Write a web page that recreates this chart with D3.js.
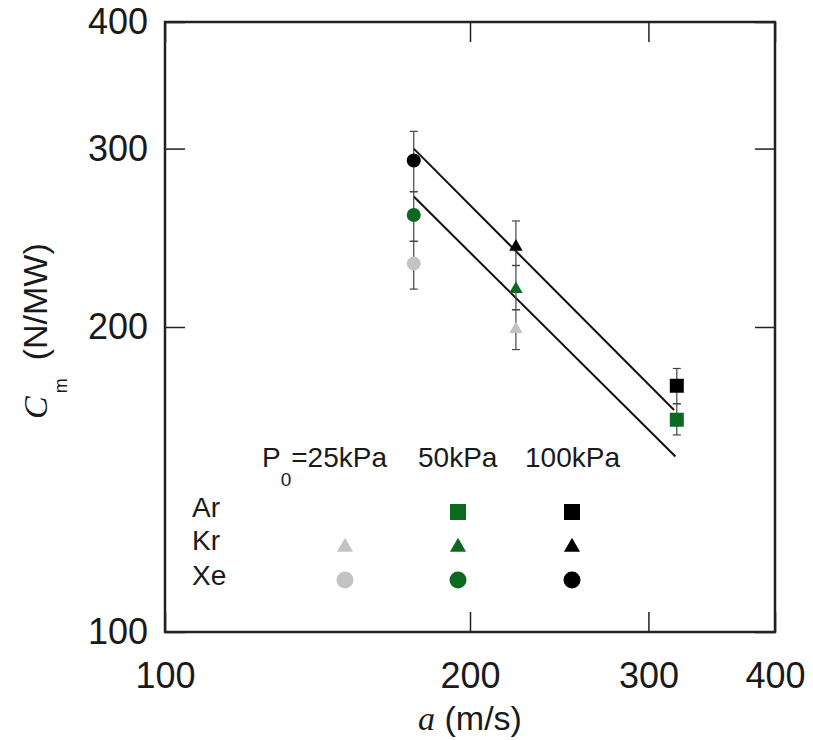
<!DOCTYPE html>
<html>
<head>
<meta charset="utf-8">
<script src="https://cdn.jsdelivr.net/npm/d3@7"></script>
<style>
	body { margin: 0; background: #fff; }
	svg { display: block; }
	text { font-family: "Liberation Sans", Arial, sans-serif; fill: #1a1a1a; }
</style>
</head>
<body>
<svg id="chart" width="813" height="740"></svg>
<script>
// gases, in the order Ar, Kr, Xe
const gases = ["Ar", "Kr", "Xe"];
const pressureLabels = ["25kPa", "50kPa", "100kPa"];
const soundSpeed = [320, 222, 176];

// Cm (N/MW) for each gas, one list per fill pressure
const cm25 = [null, 199, 231];
const cm50 = [162, 218, 258];
const cm100 = [175, 240, 292];

// error bar ends
const low25 = [null, 190, 218];
const high25 = [null, 208, 243];
const low50 = [156.5, 208, 243];
const high50 = [168, 230, 272];
const low100 = [168, 230, 272];
const high100 = [182, 254.5, 312];

// fitted lines, end points [a, Cm]
const fit100 = [[176, 300], [318, 165.6]];
const fit50 = [[176, 269], [319, 149]];

const xTicks = [100, 200, 300, 400];
const yTicks = [100, 200, 300, 400];

const colors = ["#c3c3c3", "#0b6a1f", "#000000"];
const shapes = [d3.symbolSquare, d3.symbolTriangle, d3.symbolCircle];
const plotSizes = [196, 78, 154];
const legendSizes = [256, 112, 227];

const margin = {left: 165, top: 22};
const width = 610, height = 610;

const svg = d3.select("#chart");
const g = svg.append("g").attr("transform", `translate(${margin.left},${margin.top})`);

const x = d3.scaleLog().domain([100, 400]).range([0, width]);
const y = d3.scaleLog().domain([100, 400]).range([height, 0]);

// axes: inward ticks on all four sides, labels on bottom and left only
function styleAxis(sel) {
	sel.select(".domain").remove();
	sel.selectAll(".tick line").attr("stroke", "#222").attr("stroke-width", 1.5);
	sel.selectAll(".tick text")
		.attr("font-size", 36)
		.style("font-family", "Liberation Sans, Arial, sans-serif")
		.attr("fill", "#1a1a1a");
}

g.append("g")
	.attr("transform", `translate(0,${height})`)
	.call(d3.axisBottom(x).tickValues(xTicks).tickFormat(d3.format("d")).tickSize(-20).tickPadding(30))
	.call(styleAxis);
g.append("g")
	.call(d3.axisTop(x).tickValues(xTicks).tickFormat("").tickSize(-20))
	.call(styleAxis);
g.append("g")
	.call(d3.axisLeft(y).tickValues(yTicks).tickFormat(d3.format("d")).tickSize(-20).tickPadding(17))
	.call(styleAxis);
g.append("g")
	.attr("transform", `translate(${width},0)`)
	.call(d3.axisRight(y).tickValues(yTicks).tickFormat("").tickSize(-20))
	.call(styleAxis);

// frame
g.append("rect")
	.attr("width", width)
	.attr("height", height)
	.attr("fill", "none")
	.attr("stroke", "#222")
	.attr("stroke-width", 2.5);

// fitted lines
const line = d3.line().x(d => x(d[0])).y(d => y(d[1]));
[fit100, fit50].forEach(fit => {
	g.append("path")
		.attr("d", line(fit))
		.attr("fill", "none")
		.attr("stroke", "#111")
		.attr("stroke-width", 2);
});

const series = [
	{values: cm25, low: low25, high: high25, color: colors[0]},
	{values: cm50, low: low50, high: high50, color: colors[1]},
	{values: cm100, low: low100, high: high100, color: colors[2]}
];

// error bars first, markers on top
const bars = g.append("g").attr("stroke", "#444").attr("stroke-width", 1.2);
series.forEach(s => {
	s.values.forEach((v, i) => {
		if (v == null) return;
		const cx = x(soundSpeed[i]);
		bars.append("line")
			.attr("x1", cx).attr("x2", cx)
			.attr("y1", y(s.low[i])).attr("y2", y(s.high[i]));
		[s.low[i], s.high[i]].forEach(e => {
			bars.append("line")
				.attr("x1", cx - 4).attr("x2", cx + 4)
				.attr("y1", y(e)).attr("y2", y(e));
		});
	});
});

series.forEach(s => {
	s.values.forEach((v, i) => {
		if (v == null) return;
		g.append("path")
			.attr("d", d3.symbol(shapes[i], plotSizes[i])())
			.attr("transform", `translate(${x(soundSpeed[i])},${y(v)})`)
			.attr("fill", s.color);
	});
});

// legend
const legend = svg.append("g").attr("font-size", 28);
const header = legend.append("text").attr("x", 262).attr("y", 467);
header.append("tspan").text("P");
header.append("tspan").attr("font-size", 19).attr("dy", 19).text("0");
header.append("tspan").attr("dy", -19).text("=" + pressureLabels[0]);
legend.append("text").attr("x", 418).attr("y", 467).text(pressureLabels[1]);
legend.append("text").attr("x", 525).attr("y", 467).text(pressureLabels[2]);

const rowBase = [517, 550, 585];
const rowMark = [512, 547, 580];
const colX = [345, 458, 572];
gases.forEach((gas, i) => {
	legend.append("text").attr("x", 192).attr("y", rowBase[i]).text(gas);
	series.forEach((s, j) => {
		if (s.values[i] == null) return;
		legend.append("path")
			.attr("d", d3.symbol(shapes[i], legendSizes[i])())
			.attr("transform", `translate(${colX[j]},${rowMark[i]})`)
			.attr("fill", s.color);
	});
});

// axis titles
const xTitle = svg.append("text")
	.attr("x", 470)
	.attr("y", 730)
	.attr("text-anchor", "middle")
	.attr("font-size", 34);
xTitle.append("tspan")
	.style("font-family", "Liberation Serif, serif")
	.attr("font-style", "italic")
	.text("a");
xTitle.append("tspan").text(" (m/s)");

const yTitle = svg.append("text")
	.attr("transform", "translate(47,419) rotate(-90)")
	.attr("font-size", 34);
yTitle.append("tspan")
	.style("font-family", "Liberation Serif, serif")
	.attr("font-style", "italic")
	.text("C");
yTitle.append("tspan").attr("font-size", 18).attr("dx", 3).attr("dy", 20).text("m");
yTitle.append("tspan").attr("dx", 18).attr("dy", -20).text("(N/MW)");
</script>
</body>
</html>
